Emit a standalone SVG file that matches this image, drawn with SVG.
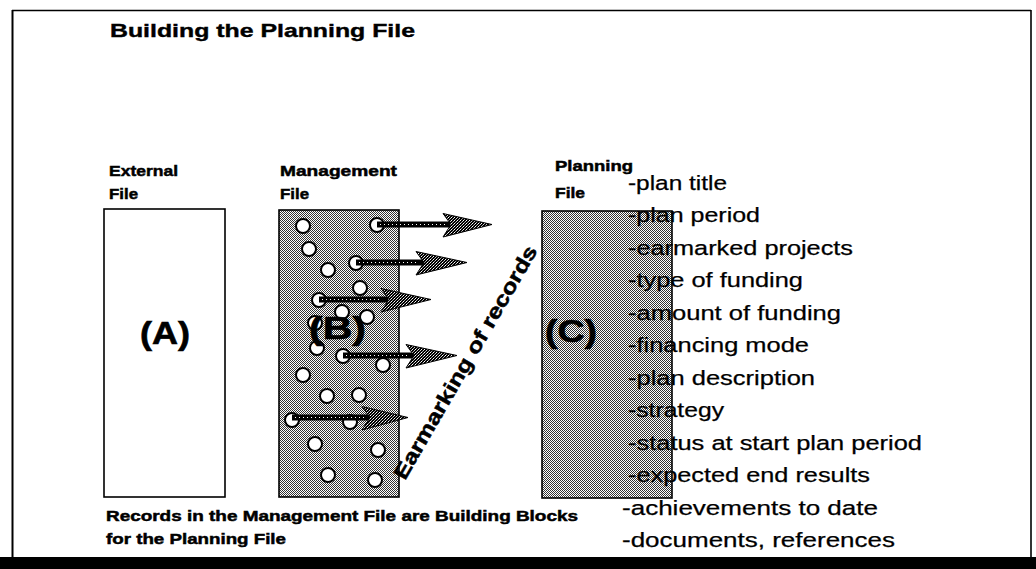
<svg xmlns="http://www.w3.org/2000/svg" width="1036" height="569" viewBox="0 0 1036 569">
<defs>
<pattern id="hatch" patternUnits="userSpaceOnUse" x="0" y="0" width="2" height="2">
<rect width="2" height="2" fill="#ffffff"/>
<rect x="0" y="0" width="1" height="1" fill="#333333"/>
<rect x="1" y="1" width="1" height="1" fill="#333333"/>
</pattern>
<pattern id="stip" patternUnits="userSpaceOnUse" x="0" y="0" width="3" height="3">
<rect width="3" height="3" fill="#000000"/>
<rect x="1" y="1" width="1" height="1" fill="#ffffff"/>
<rect x="2" y="0" width="1" height="1" fill="#aaaaaa"/>
<rect x="0" y="2" width="1" height="1" fill="#cccccc"/>
</pattern>
</defs>
<style>
text{font-family:"Liberation Sans",Arial,sans-serif;fill:#000}
.b{font-weight:bold;stroke:#000;stroke-width:0.5}
.title{font-size:19px;font-weight:bold;stroke:#000;stroke-width:0.4}
.lbl{font-size:15.5px;font-weight:bold;stroke:#000;stroke-width:0.5}
.big{font-size:31px;font-weight:bold;stroke:#000;stroke-width:0.6}
.item{font-size:20.5px;stroke:#000;stroke-width:0.25}
.cap{font-size:15.5px;font-weight:bold;stroke:#000;stroke-width:0.5}
.box{stroke:#000;stroke-width:1.6}
.rec{fill:#fff;stroke:#000;stroke-width:2}
.shaft{stroke:#000;stroke-width:6}
.dots{stroke:#fff;stroke-width:1.2;stroke-dasharray:1 3}
.head{fill:url(#stip);stroke:#000;stroke-width:1}
</style>
<rect width="1036" height="569" fill="#fff"/>
<g id="frame">
<line x1="12" y1="10.5" x2="1031" y2="10.5" stroke="#000" stroke-width="1.6"/>
<line x1="12.5" y1="10" x2="12.5" y2="557" stroke="#000" stroke-width="2"/>
<line x1="1031" y1="10" x2="1031" y2="557" stroke="#000" stroke-width="1.6"/>
<rect x="0" y="557" width="1036" height="12" fill="#000"/>
</g>
<text class="title" x="110" y="37" textLength="305" lengthAdjust="spacingAndGlyphs">Building the Planning File</text>
<g id="nodeA">
<text class="lbl" x="109" y="175.5" textLength="69" lengthAdjust="spacingAndGlyphs">External</text>
<text class="lbl" x="109" y="198.5" textLength="29" lengthAdjust="spacingAndGlyphs">File</text>
<rect class="box" x="104" y="209" width="121" height="288" fill="#fff"/>
<text class="big" x="140" y="344" textLength="50" lengthAdjust="spacingAndGlyphs">(A)</text>
</g>
<g id="nodeB">
<text class="lbl" x="280" y="175.5" textLength="117" lengthAdjust="spacingAndGlyphs">Management</text>
<text class="lbl" x="280" y="198.5" textLength="29" lengthAdjust="spacingAndGlyphs">File</text>
<rect class="box" x="279" y="210" width="120" height="287" fill="url(#hatch)"/>
<circle class="rec" cx="303" cy="226" r="7"/>
<circle class="rec" cx="377" cy="225" r="7"/>
<circle class="rec" cx="309" cy="249" r="7"/>
<circle class="rec" cx="356" cy="263" r="7"/>
<circle class="rec" cx="328" cy="270" r="7"/>
<circle class="rec" cx="360" cy="288" r="7"/>
<circle class="rec" cx="319" cy="300" r="7"/>
<circle class="rec" cx="342" cy="312" r="7"/>
<circle class="rec" cx="367" cy="317" r="7"/>
<circle class="rec" cx="315" cy="323" r="7"/>
<circle class="rec" cx="317" cy="348" r="7"/>
<circle class="rec" cx="343" cy="356" r="7"/>
<circle class="rec" cx="383" cy="365" r="7"/>
<circle class="rec" cx="303" cy="375" r="7"/>
<circle class="rec" cx="327" cy="396" r="7"/>
<circle class="rec" cx="359" cy="395" r="7"/>
<circle class="rec" cx="292" cy="420" r="7"/>
<circle class="rec" cx="350" cy="422" r="7"/>
<circle class="rec" cx="315" cy="444" r="7"/>
<circle class="rec" cx="378" cy="450" r="7"/>
<circle class="rec" cx="328" cy="475" r="7"/>
<circle class="rec" cx="375" cy="480" r="7"/>
<text class="big" x="309" y="339" textLength="57" lengthAdjust="spacingAndGlyphs">(B)</text>
</g>
<g id="nodeC">
<text class="lbl" x="555" y="170.5" textLength="78" lengthAdjust="spacingAndGlyphs">Planning</text>
<text class="lbl" x="555" y="197.5" textLength="30" lengthAdjust="spacingAndGlyphs">File</text>
<rect class="box" x="542" y="211" width="130" height="287" fill="url(#hatch)"/>
<text class="big" x="545" y="342" textLength="52" lengthAdjust="spacingAndGlyphs">(C)</text>
</g>
<g id="connectors">
<line class="shaft" x1="377" y1="224.5" x2="450" y2="224.5"/>
<line class="dots" x1="380" y1="224.5" x2="445" y2="224.5"/>
<polygon class="head" points="443,213.5 492,224.5 443,237 451,224.5"/>
<line class="shaft" x1="356" y1="262.5" x2="424" y2="262.5"/>
<line class="dots" x1="359" y1="262.5" x2="418" y2="262.5"/>
<polygon class="head" points="416,251.5 467,262.5 416,275 424,262.5"/>
<line class="shaft" x1="319" y1="299.5" x2="388" y2="299.5"/>
<line class="dots" x1="322" y1="299.5" x2="382" y2="299.5"/>
<polygon class="head" points="381,288.5 431,299.5 381,312 389,299.5"/>
<line class="shaft" x1="343" y1="355.5" x2="414" y2="355.5"/>
<line class="dots" x1="346" y1="355.5" x2="408" y2="355.5"/>
<polygon class="head" points="406,344.5 457,355.5 406,368 414,355.5"/>
<line class="shaft" x1="292" y1="417.5" x2="370" y2="417.5"/>
<line class="dots" x1="295" y1="417.5" x2="364" y2="417.5"/>
<polygon class="head" points="362,406.5 408,417.5 362,430 370,417.5"/>
</g>
<text class="b" font-size="20.5" transform="translate(405,481) rotate(-60)" x="0" y="0" textLength="266" lengthAdjust="spacingAndGlyphs">Earmarking of records</text>
<g id="fields">
<text class="item" x="628" y="189.5" textLength="99" lengthAdjust="spacingAndGlyphs">-plan title</text>
<text class="item" x="628" y="222" textLength="132" lengthAdjust="spacingAndGlyphs">-plan period</text>
<text class="item" x="628" y="254.5" textLength="225" lengthAdjust="spacingAndGlyphs">-earmarked projects</text>
<text class="item" x="628" y="287" textLength="175" lengthAdjust="spacingAndGlyphs">-type of funding</text>
<text class="item" x="628" y="319.5" textLength="213" lengthAdjust="spacingAndGlyphs">-amount of funding</text>
<text class="item" x="628" y="352" textLength="181" lengthAdjust="spacingAndGlyphs">-financing mode</text>
<text class="item" x="628" y="384.5" textLength="187" lengthAdjust="spacingAndGlyphs">-plan description</text>
<text class="item" x="628" y="417" textLength="96" lengthAdjust="spacingAndGlyphs">-strategy</text>
<text class="item" x="628" y="449.5" textLength="294" lengthAdjust="spacingAndGlyphs">-status at start plan period</text>
<text class="item" x="628" y="482" textLength="242" lengthAdjust="spacingAndGlyphs">-expected end results</text>
<text class="item" x="622" y="514.5" textLength="256" lengthAdjust="spacingAndGlyphs">-achievements to date</text>
<text class="item" x="622" y="547" textLength="273" lengthAdjust="spacingAndGlyphs">-documents, references</text>
</g>
<g id="caption">
<text class="cap" x="106" y="521" textLength="472" lengthAdjust="spacingAndGlyphs">Records in the Management File are Building Blocks</text>
<text class="cap" x="106" y="544" textLength="180" lengthAdjust="spacingAndGlyphs">for the Planning File</text>
</g>
</svg>
